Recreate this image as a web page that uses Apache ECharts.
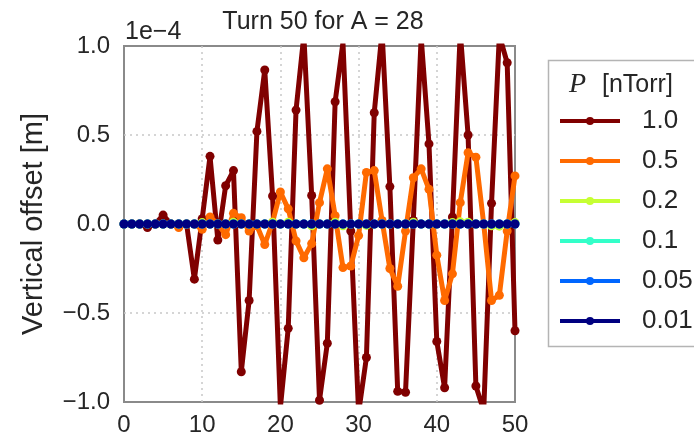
<!DOCTYPE html>
<html>
<head>
<meta charset="utf-8">
<script src="https://cdn.jsdelivr.net/npm/echarts@6/dist/echarts.min.js"></script>
<style>
  html, body { margin: 0; padding: 0; background: #fff; }
  #chart { width: 694px; height: 447px; }
</style>
</head>
<body>
<div id="chart"></div>
<script>
// Vertical offset per turn, in units of 1e-4 m, for each residual gas pressure.
const pressures = ['1.0', '0.5', '0.2', '0.1', '0.05', '0.01'];
const colors = ['#800000', '#ff6a00', '#c6ff33', '#33ffc9', '#0066ff', '#000080'];

const offsetP10 = [
  0, 0, 0, -0.02, 0, 0.05, 0, 0, 0, -0.31,
  0.03, 0.38, -0.09, 0.215, 0.30, -0.83, -0.43, 0.52, 0.865, 0.157,
  -1.03, -0.586, 0.64, 1.06, 0.16, -0.99, -0.67, 0.687, 1.02, -0.04,
  -1.06, -0.75, 0.625, 1.08, 0.21, -0.94, -0.945, 0.02, 1.05, 0.45,
  -0.66, -0.92, 0.04, 1.08, 0.50, -0.91, -1.05, 0.116, 1.06, 0.906,
  -0.60
];
const offsetP05 = [
  0, 0, 0, 0, 0, 0, 0, -0.02, 0, 0,
  -0.03, 0.04, 0.0, -0.06, 0.06, 0.035, -0.04, -0.01, -0.115, 0.01,
  0.18, 0.085, -0.095, -0.19, -0.11, 0.12, 0.31, 0.047, -0.245, -0.236,
  -0.065, 0.29, 0.30, 0.02, -0.25, -0.35, -0.04, 0.26, 0.31, 0.195,
  -0.175, -0.43, -0.28, 0.12, 0.40, 0.375, 0.0, -0.43, -0.40, -0.04,
  0.27
];
const offsetP02 = [
  0, 0, 0, 0, 0, 0, 0, 0, 0, 0,
  0.008, 0, 0, 0, 0.01, 0, 0, 0, 0, 0.01,
  0, 0.01, 0, 0, -0.01, 0, 0, 0.01, -0.01, 0,
  0, -0.008, 0, 0, 0, 0, 0, 0.01, 0, 0,
  0, 0, 0.008, 0.012, 0.01, 0, 0, -0.01, -0.012, 0,
  0.008
];
const offsetP01 = [
  0, 0, 0, 0, 0, 0, 0, 0, 0, 0,
  0, 0, 0, 0, 0, 0, 0, 0, 0, 0,
  0, 0, 0, 0, 0, 0, 0, 0, 0, 0,
  0, 0, 0, 0, 0, 0, 0, 0, 0, 0,
  0, 0, 0, 0, 0, 0, 0, 0, 0, 0,
  0
];
const offsetP005 = [
  0, 0, 0, 0, 0, 0, 0, 0, 0, 0,
  0, 0, 0, 0, 0, 0, 0, 0, 0, 0,
  0, 0, 0, 0, 0, 0, 0, 0, 0, 0,
  0, 0, 0, 0, 0, 0, 0, 0, 0, 0,
  0, 0, 0, 0, 0, 0, 0, 0, 0, 0,
  0
];
const offsetP001 = [
  0, 0, 0, 0, 0, 0, 0, 0, 0, 0,
  0, 0, 0, 0, 0, 0, 0, 0, 0, 0,
  0, 0, 0, 0, 0, 0, 0, 0, 0, 0,
  0, 0, 0, 0, 0, 0, 0, 0, 0, 0,
  0, 0, 0, 0, 0, 0, 0, 0, 0, 0,
  0
];
const offsets = [offsetP10, offsetP05, offsetP02, offsetP01, offsetP005, offsetP001];

const xTicks = [0, 10, 20, 30, 40, 50];
const yTicks = [-1.0, -0.5, 0.0, 0.5, 1.0];

const FONT = 'Liberation Sans, Arial, sans-serif';
const INK = '#262626';

const chart = echarts.init(document.getElementById('chart'), null, { renderer: 'canvas' });

const series = pressures.map((p, k) => ({
  name: p,
  type: 'line',
  data: offsets[k].map((v, turn) => [turn, v]),
  symbol: 'circle',
  symbolSize: 9,
  showSymbol: true,
  clip: true,
  animation: false,
  lineStyle: { color: colors[k], width: 5 },
  itemStyle: { color: colors[k], borderWidth: 0 },
  emphasis: { disabled: true }
}));

const gridLine = { show: true, showMinLine: false, showMaxLine: false,
  lineStyle: { color: '#c8c8c8', width: 1.5, type: [2, 4] } };

chart.setOption({
  animation: false,
  backgroundColor: '#ffffff',
  grid: {
    left: 124, right: 179, top: 46, bottom: 45,
    show: true, borderColor: '#8a8a8a', borderWidth: 2, backgroundColor: 'transparent'
  },
  xAxis: {
    type: 'value',
    min: xTicks[0], max: xTicks[xTicks.length - 1], interval: 10,
    axisLine: { show: false },
    axisTick: { show: false },
    axisLabel: { color: INK, fontFamily: FONT, fontSize: 24, margin: 11 },
    splitLine: gridLine
  },
  yAxis: {
    type: 'value',
    min: yTicks[0], max: yTicks[yTicks.length - 1], interval: 0.5,
    name: 'Vertical offset [m]',
    nameLocation: 'middle',
    nameGap: 76,
    nameTextStyle: { color: INK, fontFamily: FONT, fontSize: 29 },
    axisLine: { show: false },
    axisTick: { show: false },
    axisLabel: {
      color: INK, fontFamily: FONT, fontSize: 24, margin: 14,
      formatter: v => v.toFixed(1).replace('-', '\u2212')
    },
    splitLine: gridLine
  },
  legend: {
    show: true,
    orient: 'vertical',
    left: 558,
    top: 108,
    padding: 0,
    itemWidth: 60,
    itemHeight: 10,
    itemGap: 14,
    selectedMode: false,
    data: pressures,
    lineStyle: { width: 4 },
    textStyle: {
      color: INK, fontFamily: FONT, fontSize: 26, lineHeight: 26,
      padding: [0, 0, 0, 17]
    }
  },
  graphic: [
    {
      type: 'rect', silent: true, z: -1,
      shape: { x: 548.5, y: 60.5, width: 160, height: 286 },
      style: { fill: '#ffffff', stroke: '#b4b4b4', lineWidth: 1.5 }
    },
    {
      type: 'text', silent: true,
      x: 569, y: 85,
      style: {
        text: '{p|P}{t|[nTorr]}',
        verticalAlign: 'middle',
        rich: {
          p: { fontFamily: 'Liberation Serif, DejaVu Serif, serif', fontStyle: 'italic', fontSize: 28, fill: INK, width: 33 },
          t: { fontFamily: FONT, fontSize: 25, fill: INK }
        }
      }
    },
    {
      type: 'text', silent: true,
      x: 323, y: 22,
      style: { text: 'Turn 50 for A = 28', fontFamily: FONT, fontSize: 25, fill: INK, align: 'center', verticalAlign: 'middle' }
    },
    {
      type: 'text', silent: true,
      x: 125, y: 32,
      style: { text: '1e\u22124', fontFamily: FONT, fontSize: 25, fill: INK, align: 'left', verticalAlign: 'middle' }
    }
  ],
  series: series
});
</script>
</body>
</html>
